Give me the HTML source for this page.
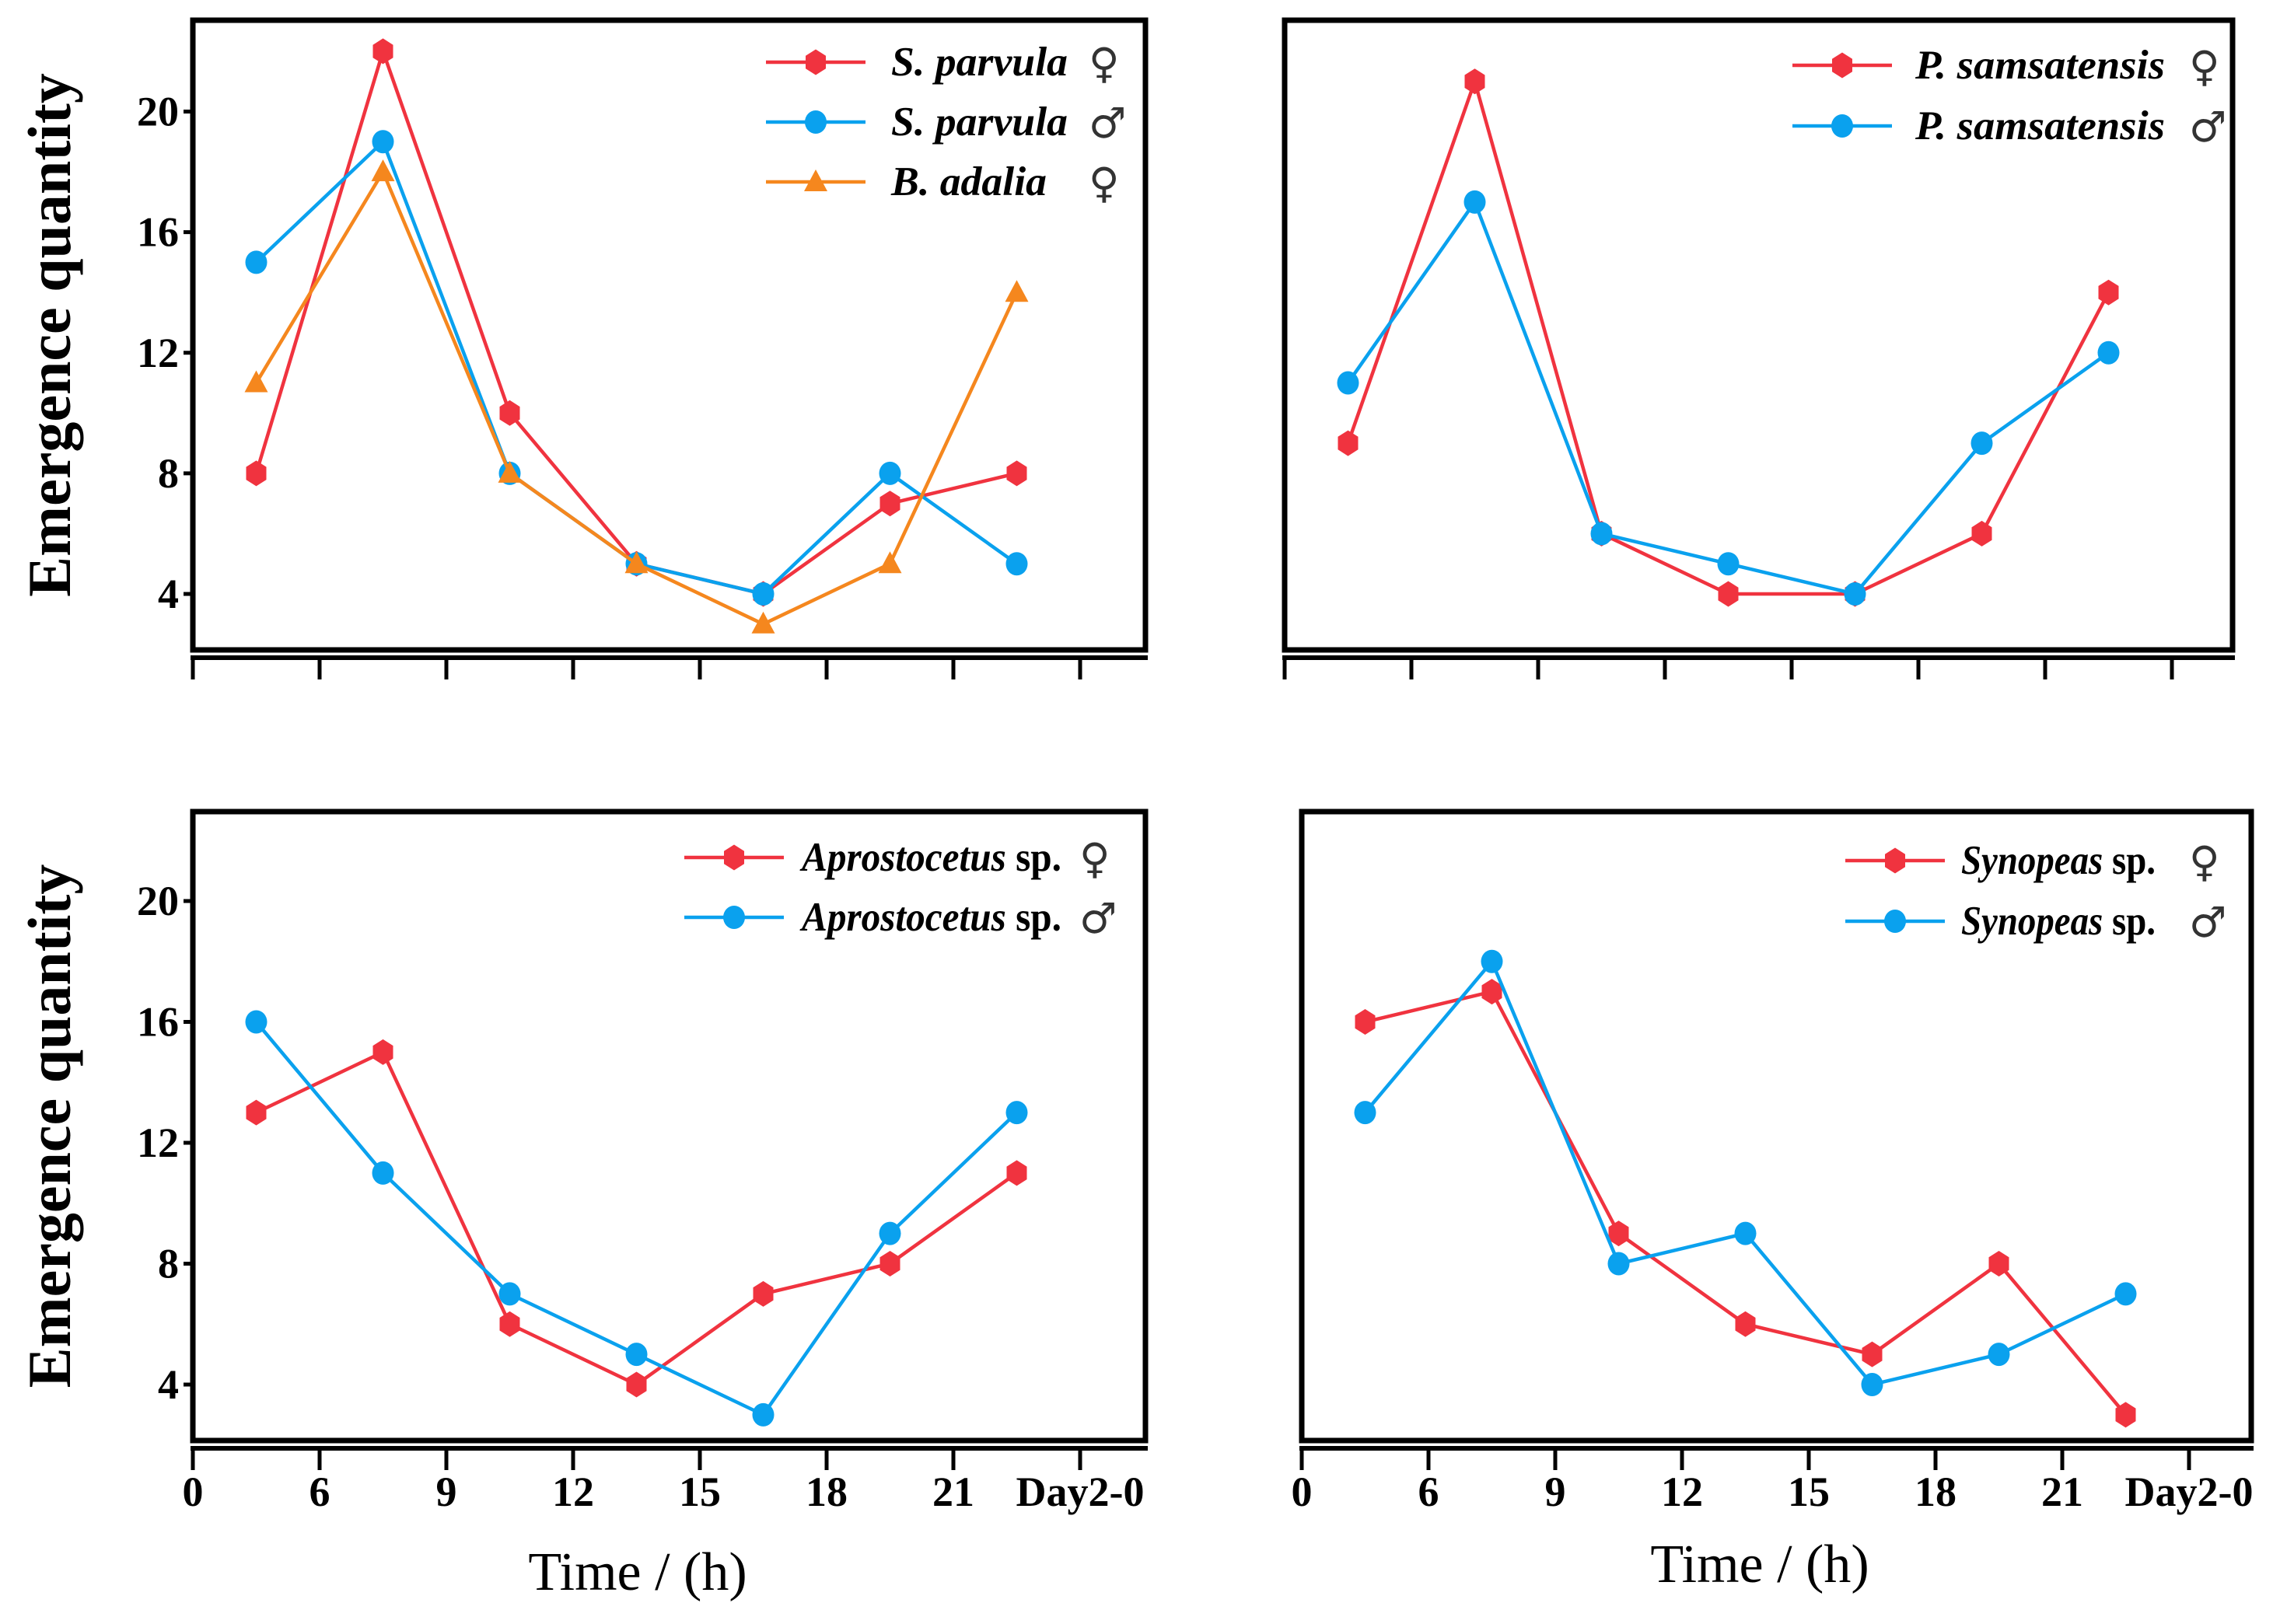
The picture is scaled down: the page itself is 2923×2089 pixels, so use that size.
<!DOCTYPE html>
<html><head><meta charset="utf-8"><style>
html,body{margin:0;padding:0;background:#fff;}
svg{display:block;}
</style></head><body>
<svg id="chart" width="2923" height="2089" viewBox="0 0 2923 2089" xmlns="http://www.w3.org/2000/svg"></svg>
<script>
const xLabels = ["0","6","9","12","15","18","21","Day2-0"];
const yTicks = [4,8,12,16,20];
const p1Female = [8,22,10,5,4,7,8];
const p1Male = [15,19,8,5,4,8,5];
const p1Adalia = [11,18,8,5,3,5,14];
const p2Female = [9,21,6,4,4,6,14];
const p2Male = [11,17,6,5,4,9,12];
const p3Female = [13,15,6,4,7,8,11];
const p3Male = [16,11,7,5,3,9,13];
const p4Female = [16,17,9,6,5,8,3];
const p4Male = [13,18,8,9,4,5,7];

const RED="#f0333f", BLUE="#0aa1ee", ORANGE="#f5871e";
const NS="http://www.w3.org/2000/svg";
const svg=document.getElementById('chart');
function mk(tag,attrs,parent){const e=document.createElementNS(NS,tag);for(const k in attrs)e.setAttribute(k,attrs[k]);(parent||svg).appendChild(e);return e;}

function hexPts(cx,cy,r){let p=[];for(let i=0;i<6;i++){const a=Math.PI/2+i*Math.PI/3;p.push((cx+r*Math.cos(a)).toFixed(1)+","+(cy-r*Math.sin(a)*1.1).toFixed(1));}return p.join(" ");}
function marker(g,shape,x,y,color){
  let m;
  if(shape==='hex'){m=mk('polygon',{points:hexPts(x,y,15),fill:color},g);}
  else if(shape==='circle'){m=mk('ellipse',{cx:x,cy:y,rx:14,ry:15,fill:color},g);}
  else {m=mk('polygon',{points:`${x},${y-16} ${x+15},${y+12} ${x-15},${y+12}`,fill:color},g);}
  
  
}

function panel(cfg){
  const g=mk('g',{});
  
  
  const L=cfg.left,R=cfg.right,T=cfg.top,B=cfg.bottom;
  const step=163;
  const xs=i=>L+(i+0.5)*step;
  const ys=v=>cfg.y4-(v-4)*(cfg.y4-cfg.y20)/16;
  const frame=mk('rect',{x:L,y:T,width:R-L,height:B-T,fill:'none',stroke:'#000','stroke-width':7},g);
  
  
  const ax=mk('line',{x1:L-3,y1:B+10,x2:R+3,y2:B+10,stroke:'#000','stroke-width':6},g);
  
  
  xLabels.forEach((lab,i)=>{
    const tx=L+i*step;
    const t=mk('line',{x1:tx,y1:B+10,x2:tx,y2:B+38,stroke:'#000','stroke-width':5},g);
    
    
    if(cfg.xlabels){
      const tt=mk('text',{x:tx,y:B+84,'text-anchor':'middle','font-family':'Liberation Serif, serif','font-weight':'bold','font-size':54},g);
      tt.textContent=lab;
      
      
    }
  });
  if(cfg.ylabels){
    yTicks.forEach(v=>{
      const t=mk('line',{x1:L-12,y1:ys(v),x2:L,y2:ys(v),stroke:'#000','stroke-width':5},g);
      
      
      const tt=mk('text',{x:L-18,y:ys(v)+18,'text-anchor':'end','font-family':'Liberation Serif, serif','font-weight':'bold','font-size':54},g);
      tt.textContent=v;
      
      
    });
    const yt=mk('text',{x:0,y:0,transform:`translate(${L-158},${(T+B)/2}) rotate(-90)`,'text-anchor':'middle','font-family':'Liberation Serif, serif','font-weight':'bold','font-size':78},g);
    yt.textContent='Emergence quantity';
    
    
  }
  if(cfg.xtitle){
    const xt=mk('text',{x:cfg.xtitleX,y:cfg.xtitleY,'text-anchor':'middle','font-family':'Liberation Serif, serif','font-size':70},g);
    xt.textContent='Time / (h)';
    
    
  }
  cfg.series.forEach((s,si)=>{
    const sg=mk('g',{},g);
    
    
    const pts=s.data.map((v,i)=>xs(i)+','+ys(v)).join(' ');
    const pl=mk('polyline',{points:pts,fill:'none',stroke:s.color,'stroke-width':4.5,'stroke-linejoin':'round'},sg);
    
    
    s.data.forEach((v,i)=>marker(sg,s.shape,xs(i),ys(v),s.color));
    const ly=cfg.legY+si*cfg.legGap;
    const lg=mk('g',{},g);
    
    
    mk('line',{x1:cfg.legX,y1:ly,x2:cfg.legX+128,y2:ly,stroke:s.color,'stroke-width':4.5},lg);
    marker(lg,s.shape,cfg.legX+64,ly,s.color);
    const lt=mk('text',{x:cfg.legTextX,y:ly+17,'font-family':'Liberation Serif, serif','font-weight':'bold','font-size':53,textLength:s.tl||cfg.legLen,lengthAdjust:'spacingAndGlyphs'},lg);
    lt.innerHTML=s.label;
    const sym=mk('text',{x:cfg.symX,y:ly+20,'font-family':'DejaVu Sans, sans-serif','font-size':54,fill:'#333'},lg);
    sym.textContent=s.sym;
  });
}

panel({name:'panel-s-parvula',left:248,right:1473,top:26,bottom:836,y20:143.5,y4:764,ylabels:true,xlabels:false,
  legX:985,legTextX:1146,symX:1400,legY:80,legGap:77,legLen:227,
  series:[{key:'s-parvula-female',data:p1Female,color:RED,shape:'hex',label:'<tspan font-style="italic">S. parvula</tspan>',sym:'♀'},
          {key:'s-parvula-male',data:p1Male,color:BLUE,shape:'circle',label:'<tspan font-style="italic">S. parvula</tspan>',sym:'♂'},
          {key:'b-adalia-female',data:p1Adalia,color:ORANGE,shape:'tri',label:'<tspan font-style="italic">B. adalia</tspan>',sym:'♀',tl:200}]});
panel({name:'panel-p-samsatensis',left:1652,right:2871,top:26,bottom:836,y20:143.5,y4:764,ylabels:false,xlabels:false,
  legX:2305,legTextX:2463,symX:2815,legY:84,legGap:78,legLen:321,
  series:[{key:'p-samsatensis-female',data:p2Female,color:RED,shape:'hex',label:'<tspan font-style="italic">P. samsatensis</tspan>',sym:'♀'},
          {key:'p-samsatensis-male',data:p2Male,color:BLUE,shape:'circle',label:'<tspan font-style="italic">P. samsatensis</tspan>',sym:'♂'}]});
panel({name:'panel-aprostocetus',left:248,right:1473,top:1044,bottom:1853,y20:1159,y4:1781,ylabels:true,xlabels:true,xtitle:true,xtitleX:820,xtitleY:2045,
  legX:880,legTextX:1031,symX:1388,legY:1103,legGap:77,legLen:334,
  series:[{key:'aprostocetus-female',data:p3Female,color:RED,shape:'hex',label:'<tspan font-style="italic">Aprostocetus</tspan> sp.',sym:'♀'},
          {key:'aprostocetus-male',data:p3Male,color:BLUE,shape:'circle',label:'<tspan font-style="italic">Aprostocetus</tspan> sp.',sym:'♂'}]});
panel({name:'panel-synopeas',left:1674,right:2895,top:1044,bottom:1853,y20:1159,y4:1781,ylabels:false,xlabels:true,xtitle:true,xtitleX:2263,xtitleY:2035,
  legX:2373,legTextX:2522,symX:2815,legY:1107,legGap:78,legLen:250,
  series:[{key:'synopeas-female',data:p4Female,color:RED,shape:'hex',label:'<tspan font-style="italic">Synopeas</tspan> sp.',sym:'♀'},
          {key:'synopeas-male',data:p4Male,color:BLUE,shape:'circle',label:'<tspan font-style="italic">Synopeas</tspan> sp.',sym:'♂'}]});
</script>
</body></html>
